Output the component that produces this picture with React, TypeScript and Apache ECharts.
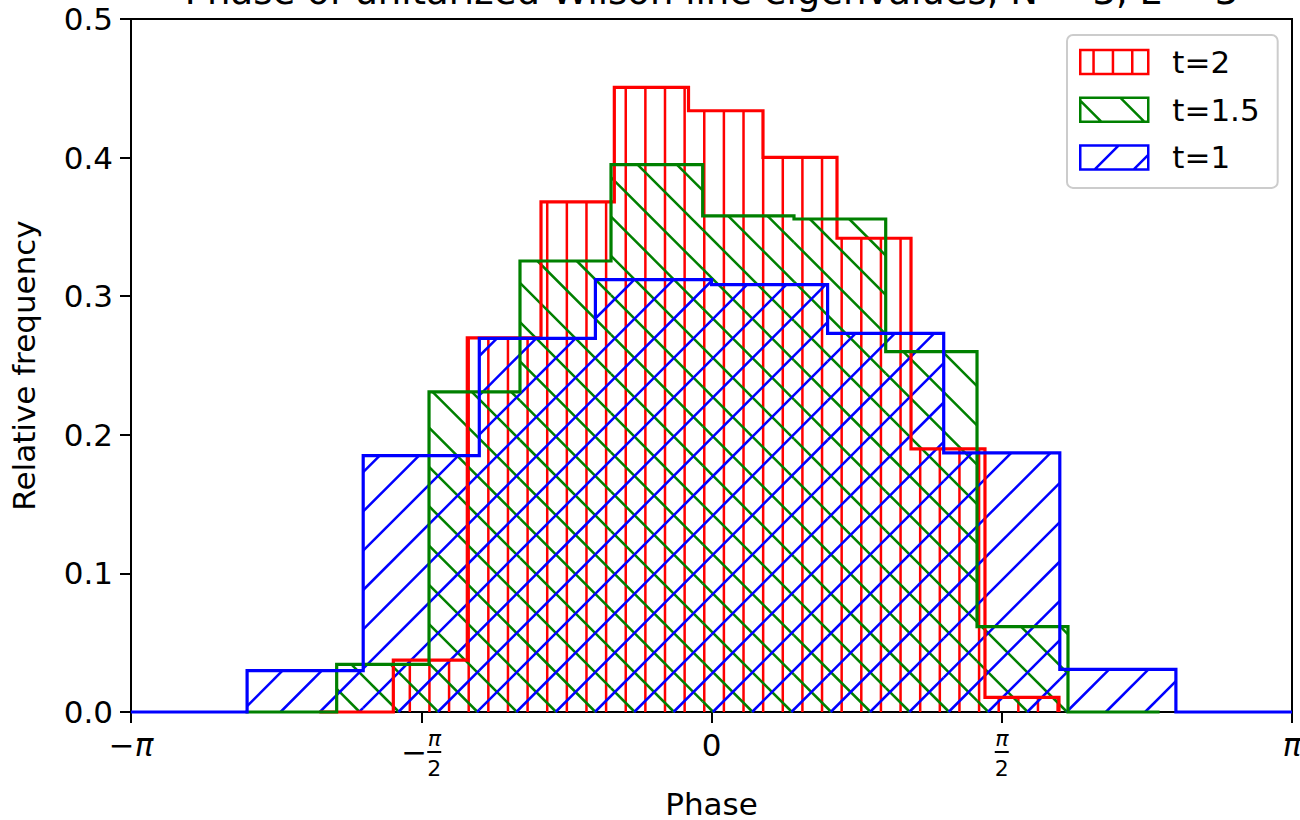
import React, { useEffect, useRef } from "react";
import * as echarts from "echarts";

// ---------- texts ----------
const TITLE = "Phase of unitarized Wilson line eigenvalues, N = 3, L = 3";
const X_AXIS_NAME = "Phase";
const Y_AXIS_NAME = "Relative frequency";
const SERIES_NAMES = ["t=2", "t=1.5", "t=1"];

// ---------- data (bin edges in units of π, relative frequency per bin) ----------
const edgesT2 = [-0.6756, -0.5481, -0.4207, -0.2937, -0.1674, -0.0396, 0.0887, 0.2162, 0.3437, 0.4711, 0.5986];
const valuesT2 = [0, 0.0375, 0.27, 0.368, 0.4507, 0.4338, 0.4002, 0.3418, 0.1898, 0.0106];

const edgesT15 = [-0.8028, -0.6457, -0.4866, -0.3299, -0.1731, -0.0152, 0.1421, 0.3001, 0.4574, 0.6141, 0.7719];
const valuesT15 = [0, 0.0344, 0.231, 0.3254, 0.395, 0.358, 0.3557, 0.26, 0.0616, 0];

const edgesT1 = [-1, -0.8, -0.6, -0.4, -0.2, 0, 0.2, 0.4, 0.6, 0.8, 1];
const valuesT1 = [0, 0.0298, 0.185, 0.2696, 0.312, 0.3083, 0.2732, 0.187, 0.0308, 0];

// x ticks in multiples of π and their labels (rich text)
const xTickValues = [-1, -0.5, 0, 0.5, 1];
const xTickLabels = [
  "{n|\u2212}{pi|\u03c0}",
  "{sp| }{fn|\u03c0}\n{mi|\u2212}{bar| }\n{sp| }{fd|2}",
  "{n|0}",
  "{fn|\u03c0}\n{bar| }\n{fd|2}",
  "{pi|\u03c0}",
];
const yTickValues = [0, 0.1, 0.2, 0.3, 0.4, 0.5];
const yTickLabels = ["0.0", "0.1", "0.2", "0.3", "0.4", "0.5"];

// ---------- styles ----------
const COLORS = ["#ff0000", "#008000", "#0000ff"];
const HATCHES = [
  { kind: "v", phase: 665, step: 19.63 },
  { kind: "bs", phase: 473, step: 39.3 },
  { kind: "fs", phase: 1542.7, step: 39.3 },
];
const LEGEND_ICONS = [
  "path://M0 0H68V24H0Z M13.3 0V24 M32.7 0V24 M52 0V24 M87 12",
  "path://M0 0H68V24H0Z M0 3L21 24 M40 0L64 24 M87 12",
  "path://M0 0H68V24H0Z M14.5 24L38.5 0 M53.5 24L68 9.5 M87 12",
];
const FONT = "DejaVu Sans";

function makeRenderItem(color: string, hatch: { kind: string; phase: number; step: number }) {
  return (params: any, api: any) => {
    const x0 = api.value(0);
    const x1 = api.value(1);
    const h = api.value(2);
    if (!(h > 0)) return { type: "group", children: [] };
    const a = api.coord([x0, 0]);
    const b = api.coord([x1, h]);
    const L = Math.min(a[0], b[0]);
    const R = Math.max(a[0], b[0]);
    const T = Math.min(a[1], b[1]);
    const B = Math.max(a[1], b[1]);
    const { phase, step } = hatch;
    const segs: number[][] = [];
    if (hatch.kind === "v") {
      for (let k = Math.ceil((L - phase) / step); ; k++) {
        const x = phase + k * step;
        if (x > R) break;
        segs.push([x, T, x, B]);
      }
    } else if (hatch.kind === "fs") {
      const cMin = L + T;
      const cMax = R + B;
      for (let k = Math.ceil((cMin - phase) / step); ; k++) {
        const c = phase + k * step;
        if (c > cMax) break;
        const yA = Math.max(T, c - R);
        const yB = Math.min(B, c - L);
        if (yB > yA) segs.push([c - yA, yA, c - yB, yB]);
      }
    } else {
      const cMin = L - B;
      const cMax = R - T;
      for (let k = Math.ceil((cMin - phase) / step); ; k++) {
        const c = phase + k * step;
        if (c > cMax) break;
        const yA = Math.max(T, L - c);
        const yB = Math.min(B, R - c);
        if (yB > yA) segs.push([c + yA, yA, c + yB, yB]);
      }
    }
    return {
      type: "group",
      children: segs.map((s) => ({
        type: "line",
        silent: true,
        shape: { x1: s[0], y1: s[1], x2: s[2], y2: s[3] },
        style: { stroke: color, lineWidth: 2.5, lineCap: "butt" },
      })),
    };
  };
}

function outlinePoints(edges: number[], values: number[]) {
  const pts: number[][] = [[edges[0], 0]];
  values.forEach((v, i) => {
    pts.push([edges[i], v]);
    pts.push([edges[i + 1], v]);
  });
  pts.push([edges[edges.length - 1], 0]);
  return pts;
}

export default function App() {
  const ref = useRef<HTMLDivElement>(null);

  useEffect(() => {
    document.body.style.margin = "0";
    document.body.style.overflow = "hidden";
    document.documentElement.style.overflow = "hidden";
    if (!ref.current) return;
    const chart = echarts.init(ref.current, undefined, { renderer: "svg", width: 1300, height: 820 });

    const hists = [
      { edges: edgesT2, values: valuesT2 },
      { edges: edgesT15, values: valuesT15 },
      { edges: edgesT1, values: valuesT1 },
    ];

    const series: any[] = [];
    hists.forEach((hst, i) => {
      series.push({
        type: "custom",
        name: SERIES_NAMES[i],
        silent: true,
        clip: false,
        dimensions: ["x0", "x1", "h"],
        encode: { x: [0, 1], y: 2 },
        itemStyle: { color: COLORS[i] },
        renderItem: makeRenderItem(COLORS[i], HATCHES[i]),
        data: hst.values.map((v, j) => [hst.edges[j], hst.edges[j + 1], v]),
      });
      series.push({
        type: "line",
        name: SERIES_NAMES[i] + " outline",
        silent: true,
        clip: false,
        symbol: "none",
        showSymbol: false,
        color: COLORS[i],
        lineStyle: { color: COLORS[i], width: 3.2, join: "miter", cap: "butt" },
        data: outlinePoints(hst.edges, hst.values),
      });
    });

    const richX = {
      n: { fontSize: 31, fontFamily: FONT, color: "#000", lineHeight: 31, verticalAlign: "middle" },
      pi: { fontSize: 31, fontFamily: FONT, fontStyle: "italic", color: "#000", lineHeight: 31, verticalAlign: "middle" },
      fn: { fontSize: 22, fontFamily: FONT, fontStyle: "italic", color: "#000", lineHeight: 17, width: 14, align: "center", verticalAlign: "middle" },
      fd: { fontSize: 22, fontFamily: FONT, color: "#000", lineHeight: 21, width: 14, align: "center", verticalAlign: "middle" },
      bar: { fontSize: 4, width: 14, height: 2, lineHeight: 11, backgroundColor: "#000", verticalAlign: "middle" },
      mi: { fontSize: 31, fontFamily: FONT, color: "#000", lineHeight: 11, width: 26, align: "left", verticalAlign: "middle" },
      sp: { fontSize: 4, width: 26, lineHeight: 11, verticalAlign: "middle" },
    };

    const option: any = {
      animation: false,
      textStyle: { fontFamily: FONT },
      grid: {
        left: 131,
        right: 8,
        top: 19,
        bottom: 108,
        containLabel: false,
        outerBoundsMode: "none",
        show: true,
        borderColor: "#000",
        borderWidth: 2,
        backgroundColor: "transparent",
      },
      graphic: [
        {
          type: "text",
          x: 711.5,
          y: -8.8,
          silent: true,
          style: {
            text: TITLE,
            fontSize: 37,
            fontFamily: FONT,
            fill: "#000",
            align: "center",
            verticalAlign: "middle",
          },
        },
      ],
      legend: {
        orient: "vertical",
        left: 1067,
        top: 35,
        padding: [11.5, 18, 15, 12],
        itemGap: 16.7,
        itemWidth: 87,
        itemHeight: 24,
        backgroundColor: "rgba(255,255,255,0.8)",
        borderColor: "#cccccc",
        borderWidth: 2,
        borderRadius: 6,
        selectedMode: false,
        textStyle: { fontSize: 31, fontFamily: FONT, color: "#000" },
        data: SERIES_NAMES.map((n, i) => ({
          name: n,
          icon: LEGEND_ICONS[i],
          itemStyle: { color: "rgba(0,0,0,0)", borderColor: COLORS[i], borderWidth: 2.5 },
        })),
      },
      xAxis: {
        type: "value",
        min: xTickValues[0],
        max: xTickValues[xTickValues.length - 1],
        interval: 0.5,
        name: X_AXIS_NAME,
        nameLocation: "middle",
        nameGap: 78.5,
        nameTextStyle: { fontSize: 31, lineHeight: 26, fontFamily: FONT, color: "#000" },
        axisLine: { show: true, onZero: false, lineStyle: { color: "#000", width: 2 } },
        axisTick: { show: true, inside: false, length: 11, lineStyle: { color: "#000", width: 2 } },
        splitLine: { show: false },
        axisLabel: {
          show: true,
          margin: 17.5,
          showMinLabel: true,
          showMaxLabel: true,
          color: "#000",
          formatter: (v: number) => {
            let best = 0;
            xTickValues.forEach((t, i) => {
              if (Math.abs(t - v) < Math.abs(xTickValues[best] - v)) best = i;
            });
            return xTickLabels[best];
          },
          rich: richX,
        },
      },
      yAxis: {
        type: "value",
        min: yTickValues[0],
        max: yTickValues[yTickValues.length - 1],
        interval: 0.1,
        name: Y_AXIS_NAME,
        nameLocation: "middle",
        nameGap: 92,
        nameTextStyle: { fontSize: 31, fontFamily: FONT, color: "#000" },
        axisLine: { show: true, onZero: false, lineStyle: { color: "#000", width: 2 } },
        axisTick: { show: true, inside: false, length: 11, lineStyle: { color: "#000", width: 2 } },
        splitLine: { show: false },
        axisLabel: {
          show: true,
          margin: 18,
          fontSize: 31,
          fontFamily: FONT,
          color: "#000",
          showMinLabel: true,
          showMaxLabel: true,
          formatter: (v: number) => {
            let best = 0;
            yTickValues.forEach((t, i) => {
              if (Math.abs(t - v) < Math.abs(yTickValues[best] - v)) best = i;
            });
            return yTickLabels[best];
          },
        },
      },
      series,
    };

    chart.setOption(option);
    return () => {
      chart.dispose();
    };
  }, []);

  return (
    <div
      ref={ref}
      style={{ position: "fixed", left: 0, top: 0, width: 1300, height: 820, background: "#fff" }}
    />
  );
}
